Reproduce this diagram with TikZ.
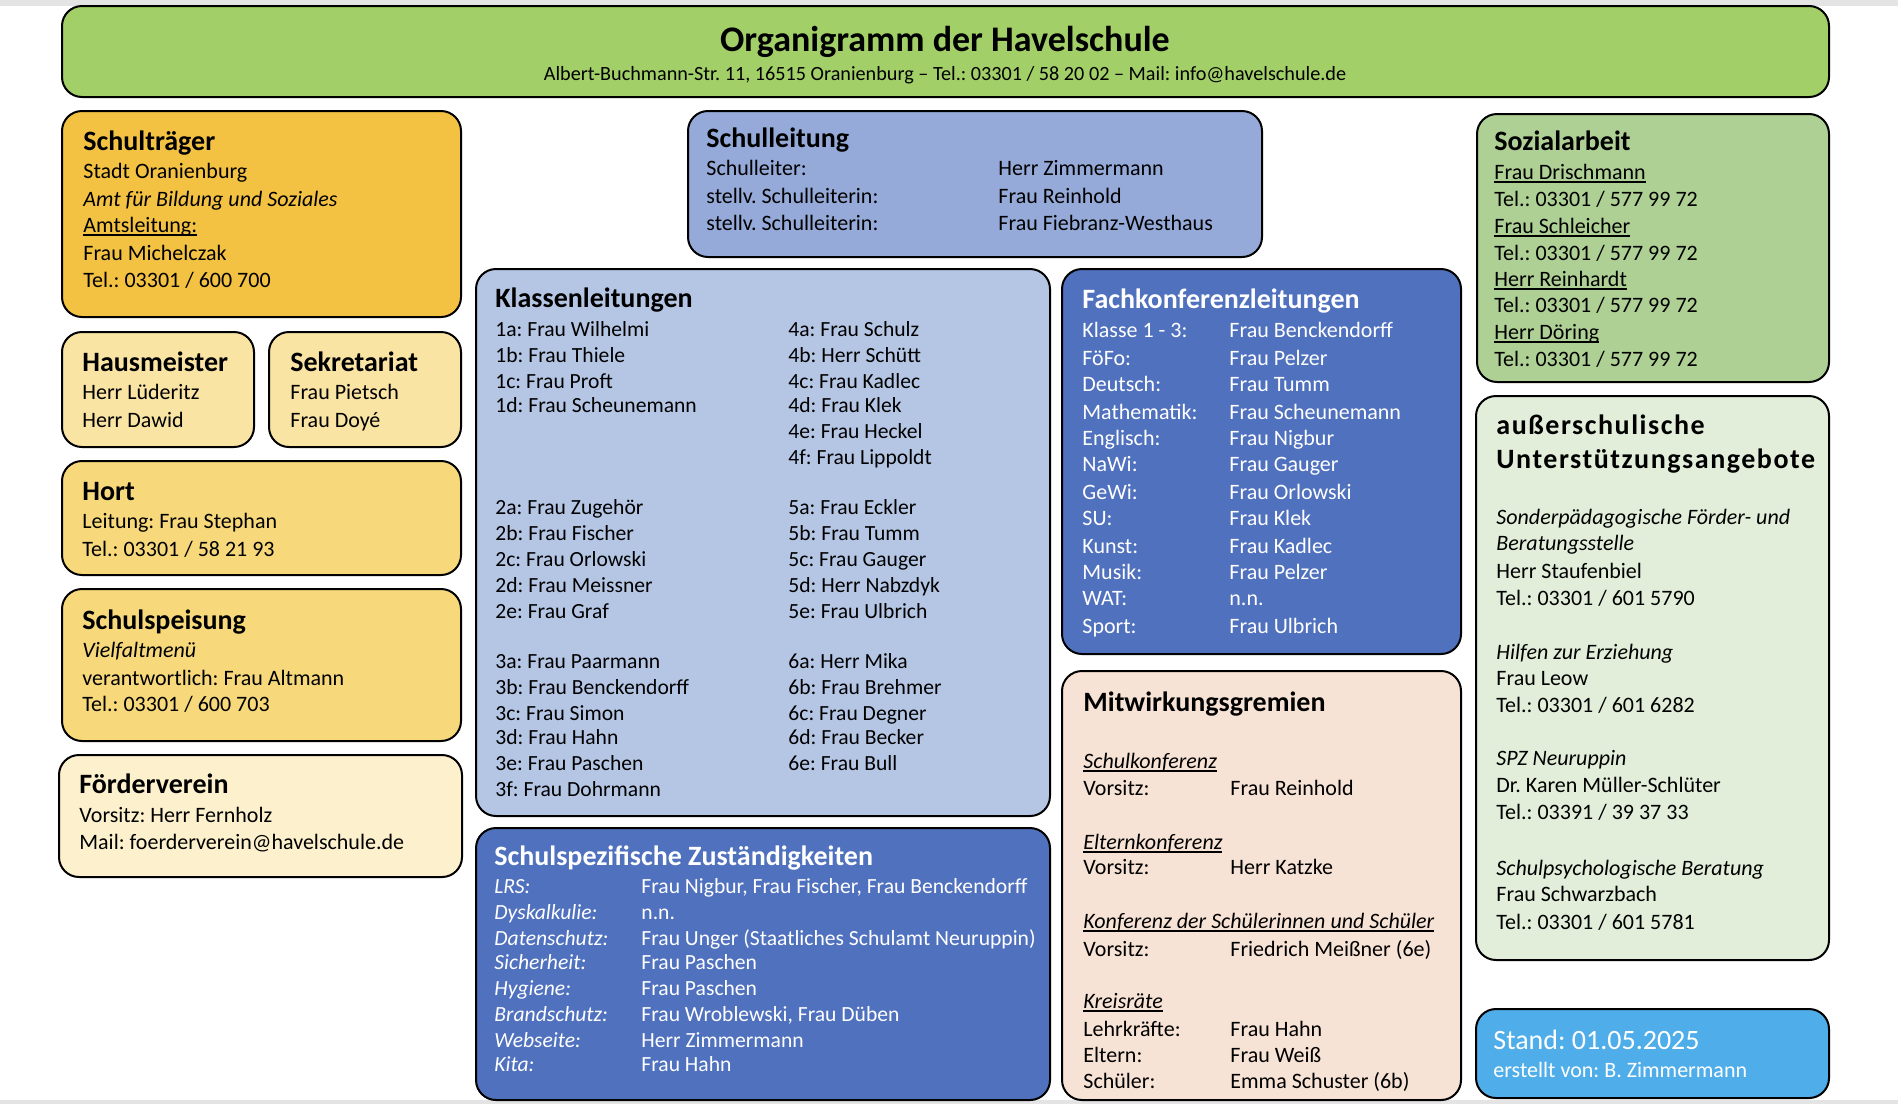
\documentclass[tikz,border=0pt]{standalone}
\usepackage{fontspec}
\setmainfont{Carlito}
\usetikzlibrary{fit}
\frenchspacing
\newcommand\fsz[1]{\fontsize{#1}{#1}\selectfont}
\newcommand\ulx[1]{\setbox0=\hbox{#1}\rlap{\rule[-2pt]{\wd0}{0.8pt}}\box0}
\definecolor{cHead}{HTML}{A2CF68}
\definecolor{cTraeger}{HTML}{F4C243}
\definecolor{cHaus}{HTML}{FAE4A4}
\definecolor{cHort}{HTML}{F7D97C}
\definecolor{cFoerder}{HTML}{FDF1CD}
\definecolor{cLeitung}{HTML}{95AAD8}
\definecolor{cKlassen}{HTML}{B5C6E5}
\definecolor{cDark}{HTML}{5071BE}
\definecolor{cMitw}{HTML}{F7E3D5}
\definecolor{cSozial}{HTML}{AFD095}
\definecolor{cAusser}{HTML}{E2EEDA}
\definecolor{cStand}{HTML}{4FAEE9}
\definecolor{cStrip}{HTML}{E4E4E4}
\tikzset{
  box/.style={draw=black, line width=1pt, rounded corners=10pt, inner sep=0pt},
  t/.style={anchor=base west, inner sep=0pt, font=\fsz{11pt}},
  ti/.style={t, font=\fsz{11pt}\itshape},
  hd/.style={anchor=base west, inner sep=0pt, font=\fsz{14pt}\bfseries},
  wt/.style={t, text=white},
  wti/.style={ti, text=white},
  whd/.style={hd, text=white},
}
\begin{document}
\begin{tikzpicture}[x=0.5pt, y=-0.5pt]
\useasboundingbox (0,0) rectangle (1898,1104);
\fill[cStrip] (0,0) rectangle (1898,6);
\fill[cStrip] (0,1100) rectangle (1898,1104);

% header
\node[box, fill=cHead, fit={(62,6) (1829,97)}] (head) {};
\node[anchor=base, inner sep=0pt, font=\fsz{18pt}\bfseries] (htitle) at (945,51) {Organigramm der Havelschule};
\node[anchor=base, inner sep=0pt, font=\fsz{10.1pt}] (hsub) at (945,80) {Albert-Buchmann-Str. 11, 16515 Oranienburg – Tel.: 03301 / 58 20 02 – Mail: info@havelschule.de};

% Schultraeger
\node[box, fill=cTraeger, fit={(62,111) (461,317)}] (traeger) {};
\node[hd] (tr0) at (83,150) {Schulträger};
\node[t] (tr1) at (83,178) {Stadt Oranienburg};
\node[ti] (tr2) at (83,206) {Amt für Bildung und Soziales};
\node[t] (tr3) at (83,232) {\ulx{Amtsleitung:}};
\node[t] (tr4) at (83,260) {Frau Michelczak};
\node[t] (tr5) at (83,287) {Tel.: 03301 / 600 700};

% Hausmeister / Sekretariat
\node[box, fill=cHaus, fit={(62,332) (254,447)}] (haus) {};
\node[hd] (ha0) at (82,371) {Hausmeister};
\node[t] (ha1) at (82,399) {Herr Lüderitz};
\node[t] (ha2) at (82,427) {Herr Dawid};
\node[box, fill=cHaus, fit={(269,332) (461,447)}] (sekr) {};
\node[hd] (se0) at (290,371) {Sekretariat};
\node[t] (se1) at (290,399) {Frau Pietsch};
\node[t] (se2) at (290,427) {Frau Doyé};

% Hort
\node[box, fill=cHort, fit={(62,461) (461,575)}] (hort) {};
\node[hd] (ho0) at (82,500) {Hort};
\node[t] (ho1) at (82,528) {Leitung: Frau Stephan};
\node[t] (ho2) at (82,556) {Tel.: 03301 / 58 21 93};

% Schulspeisung
\node[box, fill=cHort, fit={(62,589) (461,741)}] (speis) {};
\node[hd] (sp0) at (82,629) {Schulspeisung};
\node[ti] (sp1) at (82,657) {Vielfaltmenü};
\node[t] (sp2) at (82,685) {verantwortlich: Frau Altmann};
\node[t] (sp3) at (82,711) {Tel.: 03301 / 600 703};

% Foerderverein
\node[box, fill=cFoerder, fit={(59,755) (462,877)}] (foerder) {};
\node[hd] (fo0) at (79,793) {Förderverein};
\node[t] (fo1) at (79,822) {Vorsitz: Herr Fernholz};
\node[t] (fo2) at (79,849) {Mail: foerderverein@havelschule.de};

% Schulleitung
\node[box, fill=cLeitung, fit={(688,111) (1262,257)}] (leitung) {};
\node[hd] (sl0) at (706,147) {Schulleitung};
\node[t] (sl1) at (706,175) {Schulleiter:};
\node[t] (sl2) at (706,203) {stellv. Schulleiterin:};
\node[t] (sl3) at (706,230) {stellv. Schulleiterin:};
\node[t] (sl4) at (998,175) {Herr Zimmermann};
\node[t] (sl5) at (998,203) {Frau Reinhold};
\node[t] (sl6) at (998,230) {Frau Fiebranz-Westhaus};

% Klassenleitungen
\node[box, fill=cKlassen, fit={(476,269) (1050,816)}] (klassen) {};
\node[hd] (kl0) at (495,307) {Klassenleitungen};
\foreach \yy/\tx [count=\i] in {336/{1a: Frau Wilhelmi},362/{1b: Frau Thiele},388/{1c: Frau Proft},412/{1d: Frau Scheunemann},
  514/{2a: Frau Zugehör},540/{2b: Frau Fischer},566/{2c: Frau Orlowski},592/{2d: Frau Meissner},618/{2e: Frau Graf},
  668/{3a: Frau Paarmann},694/{3b: Frau Benckendorff},720/{3c: Frau Simon},744/{3d: Frau Hahn},770/{3e: Frau Paschen},796/{3f: Frau Dohrmann}}
  \node[t, font=\fsz{10.8pt}] (kla\i) at (495,\yy) {\tx};
\foreach \yy/\tx [count=\i] in {336/{4a: Frau Schulz},362/{4b: Herr Schütt},388/{4c: Frau Kadlec},412/{4d: Frau Klek},438/{4e: Frau Heckel},464/{4f: Frau Lippoldt},
  514/{5a: Frau Eckler},540/{5b: Frau Tumm},566/{5c: Frau Gauger},592/{5d: Herr Nabzdyk},618/{5e: Frau Ulbrich},
  668/{6a: Herr Mika},694/{6b: Frau Brehmer},720/{6c: Frau Degner},744/{6d: Frau Becker},770/{6e: Frau Bull}}
  \node[t, font=\fsz{10.8pt}] (klb\i) at (788,\yy) {\tx};

% Schulspezifische Zustaendigkeiten
\node[box, fill=cDark, fit={(476,828) (1050,1100)}] (spez) {};
\node[whd] (sz0) at (494,865) {Schulspezifische Zuständigkeiten};
\foreach \yy/\la/\va [count=\i] in {893/{LRS:}/{Frau Nigbur, Frau Fischer, Frau Benckendorff},919/{Dyskalkulie:}/{n.n.},
  945/{Datenschutz:}/{Frau Unger (Staatliches Schulamt Neuruppin)},969/{Sicherheit:}/{Frau Paschen},995/{Hygiene:}/{Frau Paschen},
  1021/{Brandschutz:}/{Frau Wroblewski, Frau Düben},1047/{Webseite:}/{Herr Zimmermann},1071/{Kita:}/{Frau Hahn}}
{
  \node[wti, font=\fsz{10.8pt}\itshape] (sza\i) at (494,\yy) {\la};
  \node[wt, font=\fsz{10.8pt}] (szb\i) at (641,\yy) {\va};
}

% Fachkonferenzleitungen
\node[box, fill=cDark, fit={(1062,269) (1461,654)}] (fach) {};
\node[whd] (fk0) at (1082,308) {Fachkonferenzleitungen};
\foreach \yy/\la/\va [count=\i] in {337/{Klasse 1 - 3:}/{Frau Benckendorff},365/{FöFo:}/{Frau Pelzer},391/{Deutsch:}/{Frau Tumm},
  419/{Mathematik:}/{Frau Scheunemann},445/{Englisch:}/{Frau Nigbur},471/{NaWi:}/{Frau Gauger},499/{GeWi:}/{Frau Orlowski},
  525/{SU:}/{Frau Klek},553/{Kunst:}/{Frau Kadlec},579/{Musik:}/{Frau Pelzer},605/{WAT:}/{n.n.},633/{Sport:}/{Frau Ulbrich}}
{
  \node[wt] (fka\i) at (1082,\yy) {\la};
  \node[wt] (fkb\i) at (1229,\yy) {\va};
}

% Mitwirkungsgremien
\node[box, fill=cMitw, fit={(1062,671) (1461,1100)}] (mitw) {};
\node[hd] (mw0) at (1083,711) {Mitwirkungsgremien};
\node[ti] (mw1) at (1083,768) {\ulx{Schulkonferenz}};
\node[t] (mw2) at (1083,795) {Vorsitz:};
\node[t] (mw3) at (1230,795) {Frau Reinhold};
\node[ti] (mw4) at (1083,849) {\ulx{Elternkonferenz}};
\node[t] (mw5) at (1083,874) {Vorsitz:};
\node[t] (mw6) at (1230,874) {Herr Katzke};
\node[ti] (mw7) at (1083,928) {\ulx{Konferenz der Schülerinnen und Schüler}};
\node[t] (mw8) at (1083,956) {Vorsitz:};
\node[t] (mw9) at (1230,956) {Friedrich Meißner (6e)};
\node[ti] (mw10) at (1083,1008) {\ulx{Kreisräte}};
\node[t] (mw11) at (1083,1036) {Lehrkräfte:};
\node[t] (mw12) at (1230,1036) {Frau Hahn};
\node[t] (mw13) at (1083,1062) {Eltern:};
\node[t] (mw14) at (1230,1062) {Frau Weiß};
\node[t] (mw15) at (1083,1088) {Schüler:};
\node[t] (mw16) at (1230,1088) {Emma Schuster (6b)};

% Sozialarbeit
\node[box, fill=cSozial, fit={(1477,114) (1829,382)}] (sozial) {};
\node[hd] (so0) at (1494,150) {Sozialarbeit};
\node[t] (so1) at (1494,179) {\ulx{Frau Drischmann}};
\node[t] (so2) at (1494,206) {Tel.: 03301 / 577 99 72};
\node[t] (so3) at (1494,233) {\ulx{Frau Schleicher}};
\node[t] (so4) at (1494,260) {Tel.: 03301 / 577 99 72};
\node[t] (so5) at (1494,286) {\ulx{Herr Reinhardt}};
\node[t] (so6) at (1494,312) {Tel.: 03301 / 577 99 72};
\node[t] (so7) at (1494,339) {\ulx{Herr Döring}};
\node[t] (so8) at (1494,366) {Tel.: 03301 / 577 99 72};

% ausserschulische Unterstuetzungsangebote
\node[box, fill=cAusser, fit={(1476,396) (1829,960)}] (ausser) {};
\node[hd, font=\fsz{14pt}\bfseries\addfontfeature{LetterSpace=5.5}] (au0) at (1496,434) {außerschulische};
\node[hd, font=\fsz{14pt}\bfseries\addfontfeature{LetterSpace=5.5}] (au1) at (1496,468) {Unterstützungsangebote};
\node[ti] (au2) at (1496,524) {Sonderpädagogische Förder- und};
\node[ti] (au3) at (1496,550) {Beratungsstelle};
\node[t] (au4) at (1496,578) {Herr Staufenbiel};
\node[t] (au5) at (1496,605) {Tel.: 03301 / 601 5790};
\node[ti] (au6) at (1496,659) {Hilfen zur Erziehung};
\node[t] (au7) at (1496,685) {Frau Leow};
\node[t] (au8) at (1496,712) {Tel.: 03301 / 601 6282};
\node[ti] (au9) at (1496,765) {SPZ Neuruppin};
\node[t] (au10) at (1496,792) {Dr. Karen Müller-Schlüter};
\node[t] (au11) at (1496,819) {Tel.: 03391 / 39 37 33};
\node[ti] (au12) at (1496,875) {Schulpsychologische Beratung};
\node[t] (au13) at (1496,901) {Frau Schwarzbach};
\node[t] (au14) at (1496,929) {Tel.: 03301 / 601 5781};

% Stand
\node[box, fill=cStand, fit={(1476,1009) (1829,1098)}] (stand) {};
\node[anchor=base west, inner sep=0pt, font=\fsz{14pt}, text=white] (st0) at (1493,1049) {Stand: 01.05.2025};
\node[anchor=base west, inner sep=0pt, font=\fsz{11pt}, text=white] (st1) at (1493,1077) {erstellt von: B. Zimmermann};
\end{tikzpicture}
\end{document}
